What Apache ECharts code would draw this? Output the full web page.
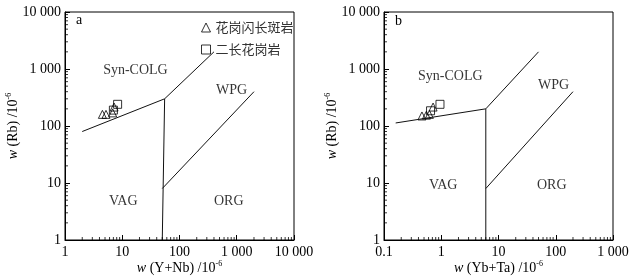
<!DOCTYPE html>
<html>
<head>
<meta charset="utf-8">
<script src="https://cdn.jsdelivr.net/npm/echarts@6/dist/echarts.min.js"></script>
<style>
  html, body { margin: 0; padding: 0; background: #fff; }
  #chart { width: 640px; height: 277px; }
</style>
</head>
<body>
<div id="chart"></div>
<script>
  // 图例名称
  const seriesNames = ['花岗闪长斑岩', '二长花岗岩'];

  // 图a: w(Y+Nb) - w(Rb)
  const triA = [[4.5, 160], [5.2, 160], [6.8, 170], [7.2, 215]];
  const sqA = [[7.0, 190], [8.3, 240]];
  // 图b: w(Yb+Ta) - w(Rb)
  const triB = [[0.46, 150], [0.55, 155], [0.62, 160], [0.72, 215]];
  const sqB = [[0.65, 185], [0.95, 240]];

  // 判别线
  const linesA = [
    [[2, 80], [55, 300], [400, 2000]],
    [[55, 300], [50, 1]],
    [[50, 8], [2000, 400]]
  ];
  const linesB = [
    [[0.16, 113], [6, 200], [50, 2000]],
    [[6, 200], [6, 1]],
    [[6, 8], [200, 400]]
  ];

  // 区域名称
  const zonesA = [['Syn-COLG', 17, 960], ['WPG', 815, 427], ['VAG', 10.4, 4.8], ['ORG', 724, 4.8]];
  const zonesB = [['Syn-COLG', 1.44, 754], ['WPG', 92, 524], ['VAG', 1.08, 9.2], ['ORG', 85, 9.2]];

  // 刻度
  const yTicks = [1, 10, 100, 1000, 10000];
  const xTicksA = [1, 10, 100, 1000, 10000];
  const xTicksB = [0.1, 1, 10, 100, 1000];

  const SERIF = '"Liberation Serif", "DejaVu Serif", serif';
  const CJK = '"Noto Sans CJK SC", sans-serif';

  function fmt(v) {
    return String(v).replace(/\B(?=(\d{3})+$)/g, ' ');
  }

  // 次刻度位置 2..9
  function minorVals(lo, hi) {
    const out = [];
    for (let d = lo; d < hi * 0.999; d *= 10) {
      for (let k = 2; k <= 9; k++) out.push(+(d * k).toPrecision(3));
    }
    return out;
  }

  const nameStyle = {
    color: '#000', fontFamily: SERIF, fontSize: 14,
    rich: {
      i: { fontStyle: 'italic', fontFamily: SERIF, fontSize: 14, color: '#000' },
      s: { fontFamily: SERIF, fontSize: 8, color: '#000', verticalAlign: 'top', padding: [0, 0, 8, 0] }
    }
  };

  function xAxisOf(idx, ticks, name) {
    return {
      type: 'log', logBase: 10, gridIndex: idx,
      min: ticks[0], max: ticks[ticks.length - 1],
      axisLine: { lineStyle: { color: '#000', width: 1 } },
      axisTick: { inside: true, length: 5, lineStyle: { color: '#000' } },
      splitLine: { show: false },
      axisLabel: {
        color: '#000', fontFamily: SERIF, fontSize: 14, margin: 5,
        formatter: function (v) { return fmt(ticks.find(t => Math.abs(t - v) < t * 1e-6)); }
      },
      name: name, nameLocation: 'middle', nameGap: 20, nameMoveOverlap: false,
      nameTextStyle: nameStyle
    };
  }

  function yAxisOf(idx) {
    return {
      type: 'log', logBase: 10, gridIndex: idx,
      min: yTicks[0], max: yTicks[yTicks.length - 1],
      axisLine: { lineStyle: { color: '#000', width: 1 } },
      axisTick: { inside: true, length: 5, lineStyle: { color: '#000' } },
      splitLine: { show: false },
      axisLabel: {
        color: '#000', fontFamily: SERIF, fontSize: 14, margin: 4,
        formatter: function (v) { return fmt(yTicks.find(t => Math.abs(t - v) < t * 1e-6)); }
      },
      name: '{i|w} (Rb) /10{s|-6}', nameLocation: 'middle', nameGap: 44, nameRotate: 90,
      nameMoveOverlap: false,
      nameTextStyle: nameStyle
    };
  }

  function lineSeries(idx, lines) {
    return lines.map(pts => ({
      type: 'line', xAxisIndex: idx, yAxisIndex: idx,
      data: pts, symbol: 'none', silent: true,
      lineStyle: { color: '#111', width: 1 }
    }));
  }

  function zoneSeries(idx, zones) {
    return {
      type: 'scatter', xAxisIndex: idx, yAxisIndex: idx, silent: true,
      symbolSize: 0,
      data: zones.map(z => ({ name: z[0], value: [z[1], z[2]] })),
      label: {
        show: true, position: 'inside', formatter: '{b}',
        color: '#000', fontFamily: SERIF, fontSize: 14
      }
    };
  }

  function pointSeries(idx, name, symbol, data) {
    return {
      type: 'scatter', name: name, xAxisIndex: idx, yAxisIndex: idx,
      symbol: symbol, symbolSize: 8,
      data: data,
      itemStyle: { color: 'rgba(0,0,0,0)', borderColor: '#000', borderWidth: 1 }
    };
  }

  // 次刻度 (小矩形标记)
  function minorTickSeries(idx, vals, onX, edge) {
    return {
      type: 'scatter', xAxisIndex: idx, yAxisIndex: idx, silent: true, clip: false,
      z: 5,
      symbol: 'rect',
      symbolSize: onX ? [1, 3] : [3, 1],
      symbolOffset: onX ? [0, -1.5] : [1.5, 0],
      itemStyle: { color: '#000' },
      data: vals.map(v => onX ? [v, edge] : [edge, v])
    };
  }

  const yMinor = minorVals(yTicks[0], yTicks[yTicks.length - 1]);

  const myChart = echarts.init(document.getElementById('chart'));

  myChart.setOption({
    backgroundColor: '#fff',
    animation: false,
    grid: [
      { left: 65, top: 12, width: 229, height: 228, outerBoundsMode: 'none', show: true, borderColor: '#000', borderWidth: 1 },
      { left: 384, top: 12, width: 229, height: 228, outerBoundsMode: 'none', show: true, borderColor: '#000', borderWidth: 1 }
    ],
    legend: {
      left: 196, top: 16, orient: 'vertical',
      itemWidth: 9, itemHeight: 9, itemGap: 9,
      itemStyle: { borderWidth: 1, borderColor: '#000', color: 'rgba(0,0,0,0)' },
      textStyle: { fontFamily: CJK, fontSize: 13, color: '#333' },
      data: [{ name: seriesNames[0], icon: 'triangle' }, { name: seriesNames[1], icon: 'rect' }]
    },
    graphic: [
      { type: 'text', left: 76, top: 13, style: { text: 'a', font: '14px ' + SERIF, fill: '#000' } },
      { type: 'text', left: 395, top: 14, style: { text: 'b', font: '14px ' + SERIF, fill: '#000' } }
    ],
    xAxis: [
      xAxisOf(0, xTicksA, '{i|w} (Y+Nb) /10{s|-6}'),
      xAxisOf(1, xTicksB, '{i|w} (Yb+Ta) /10{s|-6}')
    ],
    yAxis: [yAxisOf(0), yAxisOf(1)],
    series: [].concat(
      lineSeries(0, linesA),
      lineSeries(1, linesB),
      [
        minorTickSeries(0, minorVals(xTicksA[0], xTicksA[xTicksA.length - 1]), true, yTicks[0]),
        minorTickSeries(0, yMinor, false, xTicksA[0]),
        minorTickSeries(1, minorVals(xTicksB[0], xTicksB[xTicksB.length - 1]), true, yTicks[0]),
        minorTickSeries(1, yMinor, false, xTicksB[0]),
        zoneSeries(0, zonesA),
        zoneSeries(1, zonesB),
        pointSeries(0, seriesNames[0], 'triangle', triA),
        pointSeries(0, seriesNames[1], 'rect', sqA),
        pointSeries(1, seriesNames[0], 'triangle', triB),
        pointSeries(1, seriesNames[1], 'rect', sqB)
      ]
    )
  });
</script>
</body>
</html>
